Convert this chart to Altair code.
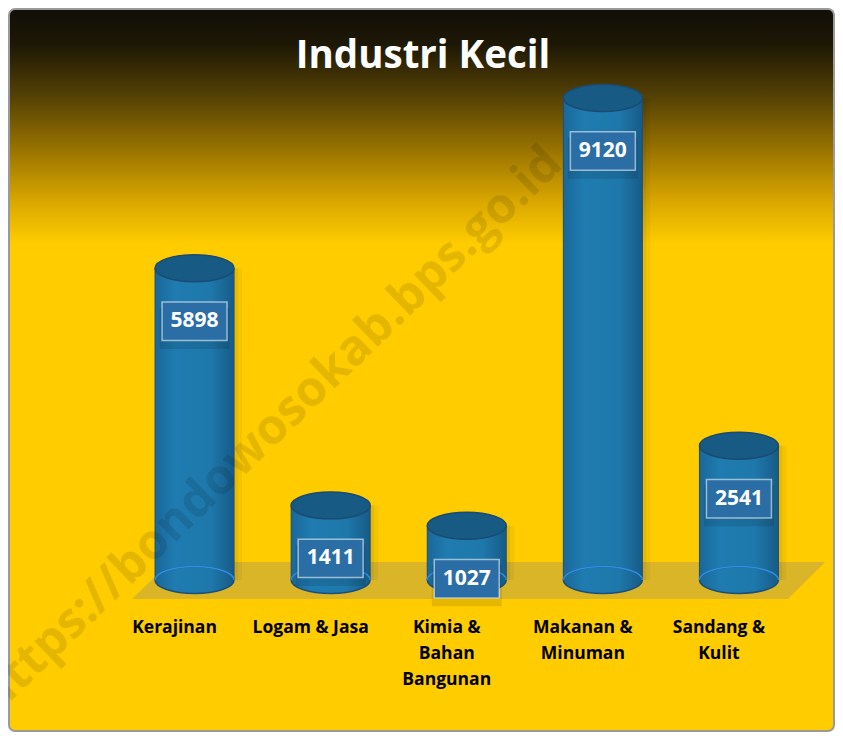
import altair as alt
import pandas as pd

# ---- data -------------------------------------------------------------
judul = ["Industri Kecil"]
kategori = ["Kerajinan", "Logam & Jasa", "Kimia & Bahan Bangunan",
            "Makanan & Minuman", "Sandang & Kulit"]
nilai = [5898, 1411, 1027, 9120, 2541]
label_sumbu = ["Kerajinan", "Logam & Jasa", "Kimia &\nBahan\nBangunan",
               "Makanan &\nMinuman", "Sandang &\nKulit"]
watermark = ["https://bondowosokab.bps.go.id"]

df = pd.DataFrame({"kategori": kategori, "nilai": nilai, "label": label_sumbu,
                   "dasar": [0] * len(kategori)})
one = pd.DataFrame({"judul": judul, "wm": watermark})

W, H = 827, 724
BAR_W = 79

xenc = alt.X("kategori:N", sort=kategori, axis=None,
             scale=alt.Scale(range=[118.5, 799], paddingInner=0, paddingOuter=0))
yscale = alt.Scale(domain=[0, 9120], range=[572, 90])
yenc = alt.Y("nilai:Q", scale=yscale, axis=None)
y0enc = alt.Y("dasar:Q", scale=yscale, axis=None)

ELLIPSE = "M -1 0 A 1 0.34 0 1 0 1 0 A 1 0.34 0 1 0 -1 0 Z"
UPPER_ARC = "M -1 0 A 1 0.34 0 0 1 1 0"
BOX = "M -1 -0.59 L 1 -0.59 L 1 0.59 L -1 0.59 Z"
FLOOR = "M -0.89 -0.0534 L 1 -0.0534 L 0.893 0.0534 L -1 0.0534 Z"

bg_grad = {
    "gradient": "linear", "x1": 0, "x2": 0, "y1": 0, "y2": 1,
    "stops": [{"color": "#100e08", "offset": 0},
              {"color": "#1e1805", "offset": 0.05},
              {"color": "#5a4505", "offset": 0.127},
              {"color": "#9a7400", "offset": 0.196},
              {"color": "#d8a600", "offset": 0.265},
              {"color": "#ffcc00", "offset": 0.325},
              {"color": "#ffcc00", "offset": 1}]}

body_grad = {
    "gradient": "linear", "x1": 0, "x2": 1, "y1": 0, "y2": 0,
    "stops": [{"color": "#1a6899", "offset": 0},
              {"color": "#1f7bb0", "offset": 0.25},
              {"color": "#1e78ab", "offset": 0.7},
              {"color": "#175b88", "offset": 1}]}

base1 = alt.Chart(one)
base = alt.Chart(df)

background = base1.mark_rect(fill=bg_grad, stroke="#9a9a9a", strokeWidth=2,
                             cornerRadius=6).encode(
    x=alt.value(1), x2=alt.value(W - 1), y=alt.value(1), y2=alt.value(H - 1))

floor = base1.mark_point(shape=FLOOR, size=693 * 693, filled=True,
                         fill="#808080", fillOpacity=0.3, strokeWidth=0).encode(
    x=alt.value(470.5), y=alt.value(572.5))

title = base1.mark_text(font="Open Sans", fontWeight="bold", fontSize=38.5,
                        color="white", baseline="alphabetic", align="center").encode(
    x=alt.value(415), y=alt.value(60), text="judul:N")

shadow1 = base.mark_bar(width=BAR_W, xOffset=4, color="black", opacity=0.05).encode(
    x=xenc, y=yenc)
shadow2 = base.mark_bar(width=BAR_W, xOffset=8, color="black", opacity=0.04).encode(
    x=xenc, y=yenc)

bars = base.mark_bar(width=BAR_W, fill=body_grad, stroke="#1b4f7a",
                     strokeWidth=1).encode(x=xenc, y=yenc)

bottom = base.mark_point(shape=ELLIPSE, size=BAR_W * BAR_W, filled=True,
                         fill=body_grad, stroke="#1b4f7a", strokeWidth=1.5,
                         opacity=1).encode(x=xenc, y=y0enc)

bottom_arc = base.mark_point(shape=UPPER_ARC, size=BAR_W * BAR_W, filled=False,
                             stroke="#2e8fe0", strokeWidth=1.5, opacity=1).encode(
    x=xenc, y=y0enc)

top = base.mark_point(shape=ELLIPSE, size=BAR_W * BAR_W, filled=True,
                      fill="#175b84", stroke="#1b4a72", strokeWidth=1.5,
                      opacity=1).encode(x=xenc, y=yenc)

OFF = 53
box_shadow = base.mark_point(shape=BOX, size=70 * 70, filled=True, fill="black",
                             opacity=0.1, strokeWidth=0, yOffset=OFF + 7).encode(
    x=xenc, y=yenc)

box = base.mark_point(shape=BOX, size=65 * 65, filled=True, fill="#2b6ea6",
                      stroke="white", strokeOpacity=0.55, strokeWidth=1.5,
                      opacity=1, yOffset=OFF).encode(x=xenc, y=yenc)

vals = base.mark_text(font="Open Sans", fontWeight="bold", fontSize=21,
                      color="white", baseline="middle", align="center",
                      yOffset=OFF).encode(x=xenc, y=yenc, text="nilai:Q")

cats = base.mark_text(font="Open Sans", fontWeight="bold", fontSize=17.5,
                      color="black", baseline="top", align="center",
                      lineBreak="\n", lineHeight=26, xOffset=-20).encode(
    x=xenc, y=alt.value(611), text="label:N")

wm = base1.mark_text(font="Open Sans", fontWeight="bold", fontSize=49,
                     color="black", opacity=0.1, angle=316, align="center",
                     baseline="middle").encode(
    x=alt.value(262), y=alt.value(422), text="wm:N")

chart = alt.layer(background, floor, title, shadow1, shadow2, bars, bottom,
                  bottom_arc, top, box_shadow, box, vals, cats, wm).properties(
    width=W, height=H, padding=0, autosize="none"
).configure_view(stroke=None)

chart.save("out.html", embed_options={"renderer": "svg", "actions": False})
